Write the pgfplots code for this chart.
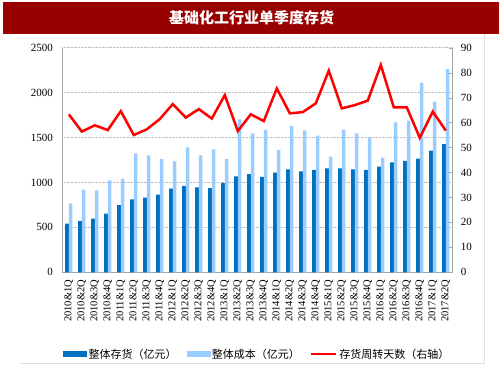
\documentclass[border=0pt]{standalone}
\usepackage{fontspec}
\setmainfont{Liberation Serif}
\newfontfamily\cjk{Noto Sans CJK SC}
\usepackage{pgfplots}
\usepackage{pgfplotstable}
\pgfplotsset{compat=1.18}
\definecolor{dblue}{HTML}{0070C0}
\definecolor{lblue}{HTML}{99CCFF}
\definecolor{tred}{HTML}{990000}
\definecolor{axgray}{HTML}{A6A6A6}

\pgfplotstableread{
x inv cost days
0 541 768 63.3
1 571 920 56.4
2 597 912 58.9
3 653 1024 57.0
4 749 1042 64.6
5 812 1324 55.0
6 831 1302 57.3
7 864 1261 61.4
8 931 1235 67.4
9 961 1391 62.0
10 946 1302 65.4
11 938 1369 61.6
12 994 1261 71.0
13 1068 1702 56.6
14 1094 1547 63.3
15 1061 1584 60.6
16 1109 1361 73.7
17 1146 1628 63.7
18 1124 1580 64.2
19 1139 1521 67.7
20 1157 1287 80.8
21 1157 1587 65.7
22 1146 1547 67.0
23 1139 1502 68.8
24 1176 1276 83.1
25 1224 1669 66.1
26 1239 1688 66.1
27 1265 2110 53.9
28 1354 1899 64.4
29 1428 2262 56.8
}\data

\begin{document}
\begin{tikzpicture}[x=1pt,y=1pt]
\useasboundingbox (0,0) rectangle (503,378);
% title bar
\fill[tred] (3,343.7) rectangle (499,376.3);
\node[text=white, font=\cjk\bfseries\fontsize{15}{18}\selectfont] at (251.5,360) {基础化工行业单季度存货};
% frame
\draw[gray!25, line width=0.8pt] (20,14.7) -- (484.3,14.7) -- (484.3,343.7);

\pgfplotsset{
  common/.style={
    scale only axis, width=390pt, height=224.6pt,
    at={(62.3pt,105.7pt)}, anchor=south west,
    xmin=-0.5, xmax=29.5,
    axis line style={axgray, line width=0.8pt},
    tick label style={font=\fontsize{11}{13}\selectfont},
    /pgf/number format/assume math mode=true,
    /pgf/number format/set thousands separator={},
    scaled y ticks=false,
  }
}

\begin{axis}[common,
  ymin=0, ymax=2500, ytick={0,500,...,2500},
  axis y line*=left, axis x line*=bottom,
  ymajorgrids, grid style={densely dotted, gray!50, line width=0.6pt},
  major tick length=0pt,
  yticklabel shift=6pt,
  xtick={0,...,29},
  xticklabels={2010\&1Q,2010\&2Q,2010\&3Q,2010\&4Q,2011\&1Q,2011\&2Q,2011\&3Q,2011\&4Q,2012\&1Q,2012\&2Q,2012\&3Q,2012\&4Q,2013\&1Q,2013\&2Q,2013\&3Q,2013\&4Q,2014\&1Q,2014\&2Q,2014\&3Q,2014\&4Q,2015\&1Q,2015\&2Q,2015\&3Q,2015\&4Q,2016\&1Q,2016\&2Q,2016\&3Q,2016\&4Q,2017\&1Q,2017\&2Q},
  xticklabel style={rotate=90, anchor=east, font=\fontsize{10.5}{12}\selectfont},
  xticklabel shift=4pt,
  ybar, bar width=3.6pt,
]
\addplot[fill=dblue, draw=none, bar shift=-1.8pt] table[x=x,y=inv]{\data};
\addplot[fill=lblue, draw=none, bar shift=1.8pt] table[x=x,y=cost]{\data};
\end{axis}

\begin{axis}[common,
  ymin=0, ymax=90, ytick={0,10,...,90},
  axis y line*=right, axis x line=none,
  major tick length=3pt, tick align=inside, tick style={axgray},
  yticklabel shift=5pt,
  legend columns=3,
  legend style={draw=none, fill=none, at={(0.5,-0.364)}, anchor=center,
    font=\cjk\fontsize{11}{13}\selectfont,
    /tikz/every even column/.append style={column sep=8pt}},
]
\addlegendimage{legend image code/.code={\fill[dblue] (0pt,-2.5pt) rectangle (23pt,2.5pt);}}
\addlegendentry{整体存货（亿元）}
\addlegendimage{legend image code/.code={\fill[lblue] (0pt,-2.5pt) rectangle (23pt,2.5pt);}}
\addlegendentry{整体成本（亿元）}
\addplot[red, line width=2.5pt, mark=none, legend image code/.code={\draw[red, line width=2.5pt] (0pt,0pt) -- (25pt,0pt);}] table[x=x,y=days]{\data};
\addlegendentry{存货周转天数（右轴）}
\end{axis}
\end{tikzpicture}
\end{document}
